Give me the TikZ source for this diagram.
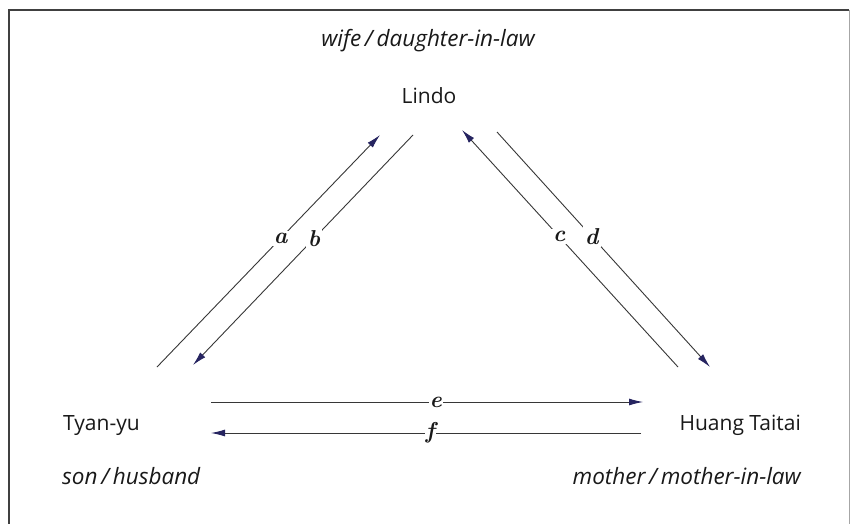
\documentclass[tikz,border=0pt]{standalone}
\usepackage{fontspec}
\setsansfont{Open Sans}
\usetikzlibrary{arrows.meta}
\definecolor{navy}{RGB}{38,36,96}
\definecolor{linegray}{RGB}{55,55,55}
\tikzset{
  person/.style={font=\sffamily\fontsize{21}{24}\selectfont, text=black!90, inner sep=0pt},
  role/.style={font=\sffamily\itshape\fontsize{22.5}{25}\selectfont, text=black!90, inner sep=0pt},
  lab/.style={font=\bfseries\itshape\fontsize{23}{25}\selectfont, fill=white, inner sep=2pt, text=black!90},
  rel/.style={draw=linegray, line width=0.9pt, -{Latex[length=14pt,width=7pt,color=navy]}},
}
\begin{document}
\begin{tikzpicture}[x=1pt,y=-1pt]
\useasboundingbox (0,0) rectangle (851,524);
\fill[white] (0,0) rectangle (851,524);
% frame
\draw[black!75, line width=1.4pt] (9,524) -- (9,10) -- (849,10);
\draw[black!35, line width=1pt] (849,10) -- (849,524);
% people
\node[role, anchor=base] (wife) at (428,47) {wife\,/\,daughter-in-law};
\node[person, anchor=base] (Lindo) at (429,104) {Lindo};
\node[person, anchor=base west] (Tyan) at (63,430) {Tyan-yu};
\node[person, anchor=base east] (Huang) at (801,430) {Huang Taitai};
\node[role, anchor=base west] (son) at (62,484) {son\,/\,husband};
\node[role, anchor=base east] (mother) at (801,484) {mother\,/\,mother-in-law};
% end points
\coordinate (a1) at (157,367); \coordinate (a2) at (380,135);
\coordinate (b1) at (413,135); \coordinate (b2) at (193,365);
\coordinate (c1) at (678,367); \coordinate (c2) at (462,130);
\coordinate (d1) at (497,132); \coordinate (d2) at (710,367);
\coordinate (e1) at (211,402); \coordinate (e2) at (643,402);
\coordinate (f1) at (641,433); \coordinate (f2) at (211,433);
% connectors
\draw[rel] (a1) -- node[lab, pos=0.555] (la) {a} (a2);
\draw[rel] (b1) -- node[lab, pos=0.45] (lb) {b} (b2);
\draw[rel] (c1) -- node[lab, pos=0.55] (lc) {c} (c2);
\draw[rel] (d1) -- node[lab, pos=0.445] (ld) {d} (d2);
\draw[rel] (e1) -- node[lab, pos=0.52, inner sep=1pt] (le) {e} (e2);
\draw[rel] (f1) -- node[lab, pos=0.49, inner sep=1pt] (lf) {f} (f2);
\end{tikzpicture}
\end{document}
